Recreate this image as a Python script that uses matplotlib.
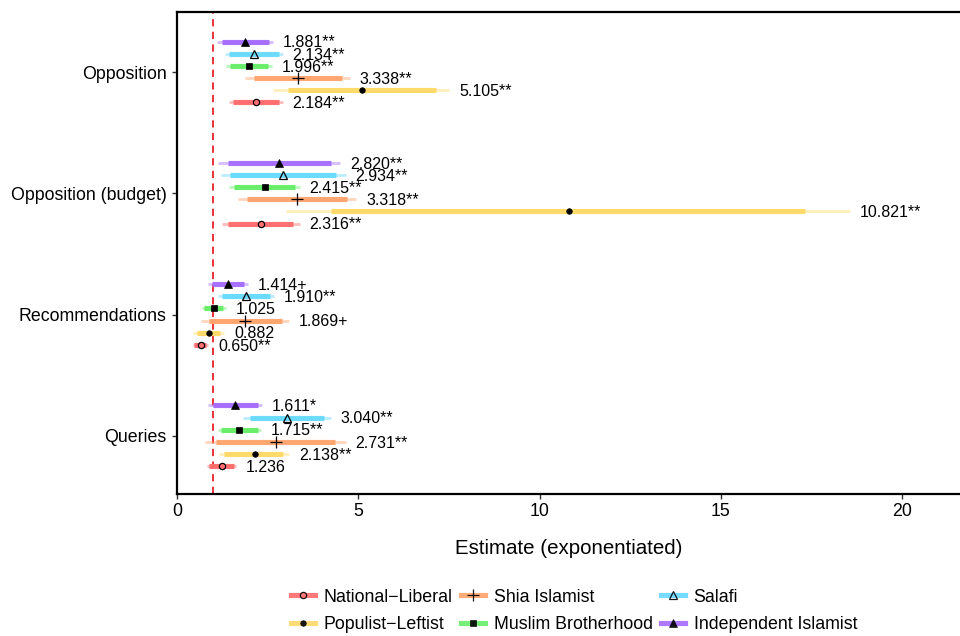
import matplotlib
matplotlib.use("Agg")
import matplotlib.pyplot as plt
from matplotlib.lines import Line2D
import numpy as np

plt.rcParams['font.family'] = ['Liberation Sans', 'DejaVu Sans']

categories = ["Opposition", "Opposition (budget)", "Recommendations", "Queries"]
series = ["National\u2212Liberal", "Populist\u2212Leftist", "Shia Islamist",
          "Muslim Brotherhood", "Salafi", "Independent Islamist"]

# values per series, ordered as categories
est = {
    "National\u2212Liberal": [2.184, 2.316, 0.650, 1.236],
    "Populist\u2212Leftist": [5.105, 10.821, 0.882, 2.138],
    "Shia Islamist":         [3.338, 3.318, 1.869, 2.731],
    "Muslim Brotherhood":    [1.996, 2.415, 1.025, 1.715],
    "Salafi":                [2.134, 2.934, 1.910, 3.040],
    "Independent Islamist":  [1.881, 2.820, 1.414, 1.611],
}
stars = {
    "National\u2212Liberal": ["**", "**", "**", ""],
    "Populist\u2212Leftist": ["**", "**", "", "**"],
    "Shia Islamist":         ["**", "**", "+", "**"],
    "Muslim Brotherhood":    ["**", "**", "", "**"],
    "Salafi":                ["**", "**", "**", "**"],
    "Independent Islamist":  ["**", "**", "+", "*"],
}
lo_outer = {
    "National\u2212Liberal": [1.44, 1.24, 0.43, 0.82],
    "Populist\u2212Leftist": [2.66, 3.02, 0.43, 1.15],
    "Shia Islamist":         [1.88, 1.67, 0.66, 0.78],
    "Muslim Brotherhood":    [1.35, 1.43, 0.69, 1.12],
    "Salafi":                [1.33, 1.20, 1.12, 1.81],
    "Independent Islamist":  [1.10, 1.12, 0.86, 0.85],
}
lo_inner = {
    "National\u2212Liberal": [1.55, 1.40, 0.48, 0.89],
    "Populist\u2212Leftist": [3.06, 4.26, 0.54, 1.30],
    "Shia Islamist":         [2.12, 1.93, 0.89, 1.08],
    "Muslim Brotherhood":    [1.46, 1.57, 0.75, 1.21],
    "Salafi":                [1.44, 1.46, 1.24, 2.01],
    "Independent Islamist":  [1.23, 1.40, 0.97, 0.98],
}
hi_inner = {
    "National\u2212Liberal": [2.80, 3.21, 0.80, 1.58],
    "Populist\u2212Leftist": [7.14, 17.32, 1.19, 2.93],
    "Shia Islamist":         [4.54, 4.69, 2.90, 4.37],
    "Muslim Brotherhood":    [2.51, 3.26, 1.26, 2.23],
    "Salafi":                [2.80, 4.39, 2.57, 4.05],
    "Independent Islamist":  [2.55, 4.25, 1.86, 2.23],
}
hi_outer = {
    "National\u2212Liberal": [2.92, 3.39, 0.86, 1.63],
    "Populist\u2212Leftist": [7.51, 18.57, 1.30, 3.10],
    "Shia Islamist":         [4.76, 4.95, 3.08, 4.66],
    "Muslim Brotherhood":    [2.62, 3.39, 1.35, 2.32],
    "Salafi":                [2.92, 4.66, 2.68, 4.25],
    "Independent Islamist":  [2.66, 4.51, 1.97, 2.34],
}
x_ticks = [0, 5, 10, 15, 20]

colors = {
    "National\u2212Liberal": "#FF6B6B",
    "Populist\u2212Leftist": "#FFD966",
    "Shia Islamist":         "#FFA36B",
    "Muslim Brotherhood":    "#66EE66",
    "Salafi":                "#66D9FF",
    "Independent Islamist":  "#A56BFF",
}
markers = {
    "National\u2212Liberal": dict(marker="o", mfc="none", mec="black", ms=4.5, mew=0.9),
    "Populist\u2212Leftist": dict(marker="o", mfc="black", mec="black", ms=4, mew=0.5),
    "Shia Islamist":         dict(marker="+", mfc="black", mec="black", ms=8, mew=0.9),
    "Muslim Brotherhood":    dict(marker="s", mfc="black", mec="black", ms=5, mew=0.5),
    "Salafi":                dict(marker="^", mfc="none", mec="black", ms=5.5, mew=0.9),
    "Independent Islamist":  dict(marker="^", mfc="black", mec="black", ms=5.5, mew=0.5),
}
offsets = [-0.25, -0.15, -0.05, 0.05, 0.15, 0.25]

fig = plt.figure(figsize=(9.6, 6.36), dpi=100)
ax = fig.add_axes([177/960, 1 - 494/636, 1 - 177/960, (494 - 12)/636])

ypos = np.array([4, 3, 2, 1], dtype=float)
ax.axvline(1, color="#E8222A", lw=1.3, ls=(0, (4, 3)), zorder=1)

for s, off in zip(series, offsets):
    y = ypos + off
    c = colors[s]
    ax.hlines(y, lo_outer[s], hi_outer[s], color=c, lw=2.0, alpha=0.45, zorder=2)
    ax.hlines(y, lo_inner[s], hi_inner[s], color=c, lw=3.7, alpha=0.95, zorder=3)
    ax.plot(est[s], y, ls="none", zorder=4, **markers[s])
    for i in range(len(categories)):
        ax.text(hi_outer[s][i] + 0.27, y[i] - 0.01, f"{est[s][i]:.3f}{stars[s][i]}",
                ha="left", va="center", fontsize=11.5, color="black", zorder=5)

ax.set_xlim(0, (960 - 177) / 36.25)
ax.set_ylim(0.52, 4.495)
ax.set_xticks(x_ticks)
ax.set_xticklabels([str(t) for t in x_ticks], fontsize=12.8)
ax.set_yticks(ypos)
ax.set_yticklabels(categories, fontsize=12.8)
ax.tick_params(axis="both", length=3.5, width=1, color="#333333")
ax.tick_params(axis="x", pad=3)
ax.tick_params(axis="y", pad=4)
ax.set_xlabel("Estimate (exponentiated)", fontsize=14.8, labelpad=14)
for sp in ["left", "bottom", "top"]:
    ax.spines[sp].set_linewidth(1.6)
    ax.spines[sp].set_color("black")
ax.spines["right"].set_visible(False)

handles = []
for s in series:
    handles.append(Line2D([0], [0], color=colors[s], lw=3.7, alpha=0.9, **markers[s]))
leg = fig.legend(handles, series, ncol=3, loc="center", bbox_to_anchor=(574/960, 1 - 611/636),
                 frameon=False, fontsize=12.8, handlelength=1.35, handletextpad=0.5,
                 columnspacing=0.45, labelspacing=0.6)

fig.savefig("out.png", dpi=100)
